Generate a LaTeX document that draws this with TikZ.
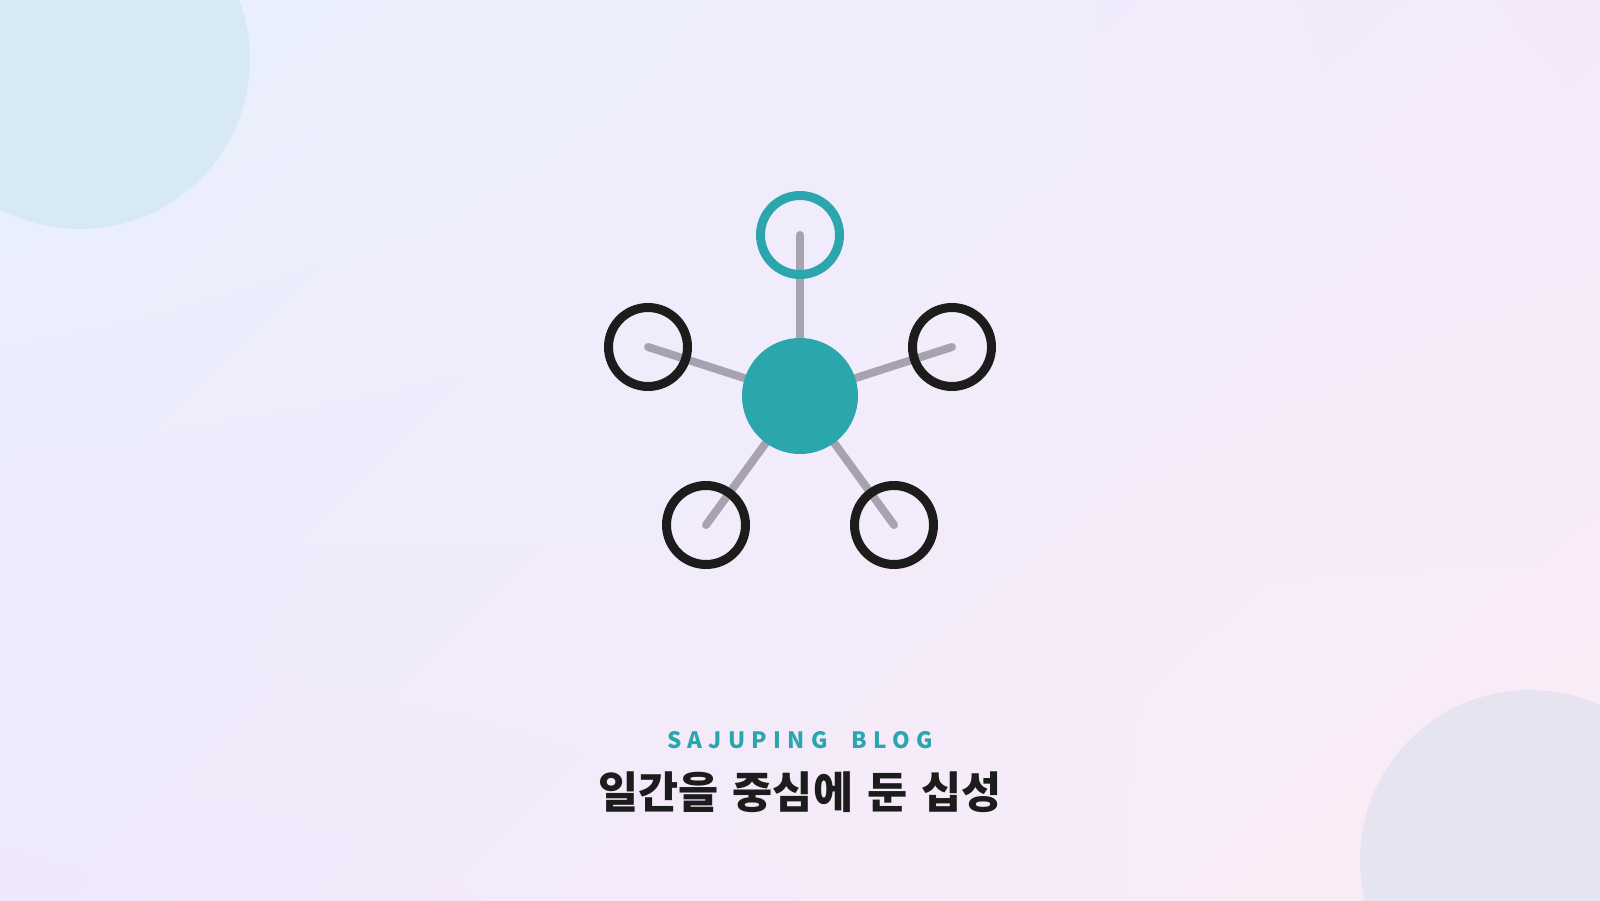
\documentclass[tikz,border=0pt]{standalone}
\usepackage{fontspec}
\usepackage{tikz}
\usetikzlibrary{shadings}
\newfontfamily\cjk[WordSpace=1.4]{Noto Sans CJK KR}
\newfontfamily\blogfont[LetterSpace=28,WordSpace=2.1]{Noto Sans CJK KR}
\definecolor{teal}{HTML}{2CA6AD}
\definecolor{ink}{HTML}{1C1C1C}
\definecolor{spokegray}{HTML}{A7A2B0}
\definecolor{bgTL}{HTML}{E8F1FD}
\definecolor{bgTR}{HTML}{F4E9FB}
\definecolor{bgBL}{HTML}{EFE8FC}
\definecolor{bgBR}{HTML}{FCEDF6}
\definecolor{blobA}{HTML}{D6E9F5}
\definecolor{blobB}{HTML}{E6E4F0}
\tikzstyle{Ring}= [circle,draw=ink,line width=0.09cm,minimum size=0.79cm,inner sep=0pt]
\tikzstyle{Hub}= [circle,fill=teal,minimum size=1.16cm,inner sep=0pt]
\tikzstyle{Spoke}= [spokegray,line width=0.08cm,line cap=round]

\begin{document}
\begin{tikzpicture}

		\useasboundingbox (0,0) rectangle (16,9);
		\shade[upper left=bgTL,upper right=bgTR,lower left=bgBL,lower right=bgBR]
		(0,0) rectangle (16,9);
		\begin{scope}
		\clip (0,0) rectangle (16,9);
		\fill[blobA] (0.8,8.41) circle (1.7);
		\fill[blobB] (15.3,0.4) circle (1.7);
		\end{scope}

		\coordinate (p0) at (8,5.04);
		\coordinate (p1) at (8,6.65);
		\coordinate (p2) at (6.48,5.53);
		\coordinate (p3) at (9.52,5.53);
		\coordinate (p4) at (7.06,3.75);
		\coordinate (p5) at (8.94,3.75);

		\draw[Spoke] (p0) -- (p1);
		\draw[Spoke] (p0) -- (p2);
		\draw[Spoke] (p0) -- (p3);
		\draw[Spoke] (p0) -- (p4);
		\draw[Spoke] (p0) -- (p5);

		\node [Ring,draw=teal] (1) at (p1) {};
		\node [Ring] (2) at (p2) {};
		\node [Ring] (3) at (p3) {};
		\node [Ring] (4) at (p4) {};
		\node [Ring] (5) at (p5) {};
		\node [Hub] (0) at (p0) {};

		\node [text=teal,font=\blogfont\bfseries\fontsize{6.4pt}{8pt}\selectfont]
		(blog) at (8,1.60) {SAJUPING BLOG};
		\node [text=ink,font=\cjk\bfseries\fontsize{12.4pt}{15pt}\selectfont]
		(title) at (8,1.08) {일간을 중심에 둔 십성};

	\end{tikzpicture}
\end{document}
